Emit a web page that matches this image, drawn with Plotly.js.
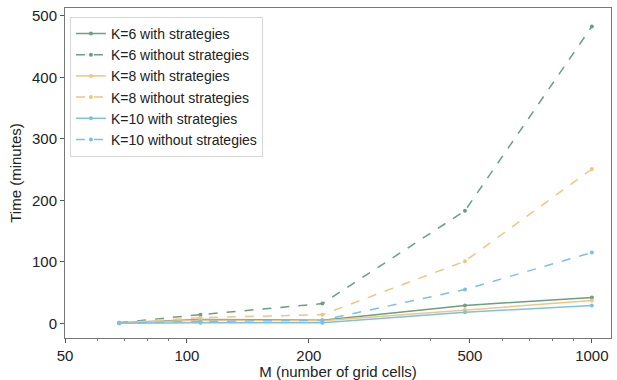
<!DOCTYPE html>
<html>
<head>
<meta charset="utf-8">
<script src="https://cdn.plot.ly/plotly-3.0.1.min.js"></script>
<style>html,body{margin:0;padding:0;background:#fff}#chart{width:617px;height:380px}</style>
</head>
<body>
<div id="chart"></div>
<script>
const M = [68, 108, 216, 486, 1000];
const k6With = [1, 6, 5, 29, 42];
const k6Without = [1, 14, 32, 183, 483];
const k8With = [0.5, 5, 4, 22, 37];
const k8Without = [0.5, 9, 14, 101, 251];
const k10With = [0, 1, 1, 18, 29];
const k10Without = [0, 3, 5, 55, 115];
const seriesNames = ["K=6 with strategies","K=6 without strategies","K=8 with strategies","K=8 without strategies","K=10 with strategies","K=10 without strategies"];
const xTickVals = [50, 100, 200, 500, 1000];
const xMinorVals = [60, 70, 80, 90, 300, 400, 600, 700, 800, 900];

const green = "#6a9f82", orange = "#f3c47f", blue = "#7cc0ea";
const data = [
  [k6With, green, "solid"], [k6Without, green, "dash"],
  [k8With, orange, "solid"], [k8Without, orange, "dash"],
  [k10With, blue, "solid"], [k10Without, blue, "dash"]
].map((d, i) => ({
  x: M, y: d[0], name: seriesNames[i], type: "scatter", mode: "lines+markers",
  line: {color: d[1], width: 1.5, dash: d[2]},
  marker: {color: d[1], size: 4}
}));

const layout = {
  width: 617, height: 380,
  margin: {l: 65, r: 6, t: 8, b: 42},
  paper_bgcolor: "#fff", plot_bgcolor: "#fff",
  font: {family: "Liberation Sans, Arial, sans-serif", size: 15, color: "#222"},
  showlegend: true,
  legend: {x: 0.009, y: 0.973, xanchor: "left", yanchor: "top", bgcolor: "rgba(255,255,255,0.9)",
    bordercolor: "#d6d6d6", borderwidth: 1, font: {size: 14, color: "#222"}, tracegroupgap: 0, itemwidth: 30},
  xaxis: {
    type: "log", range: [Math.log10(50), Math.log10(1115)],
    tickvals: xTickVals, ticktext: xTickVals.map(String),
    ticks: "outside", ticklen: 4, tickcolor: "#555", showgrid: false, zeroline: false,
    showline: true, linecolor: "#777", linewidth: 1, mirror: true,
    minor: {tickvals: xMinorVals, ticks: "outside", ticklen: 2, tickcolor: "#777", showgrid: false},
    title: {text: "M (number of grid cells)", font: {size: 15}, standoff: 2}
  },
  yaxis: {
    range: [-24, 513], tickvals: [0, 100, 200, 300, 400, 500],
    ticks: "outside", ticklen: 4, tickcolor: "#555", showgrid: false, zeroline: false,
    showline: true, linecolor: "#777", linewidth: 1, mirror: true,
    title: {text: "Time (minutes)", font: {size: 15}, standoff: 6}
  }
};
Plotly.newPlot("chart", data, layout, {displayModeBar: false, staticPlot: true});
</script>
</body>
</html>
